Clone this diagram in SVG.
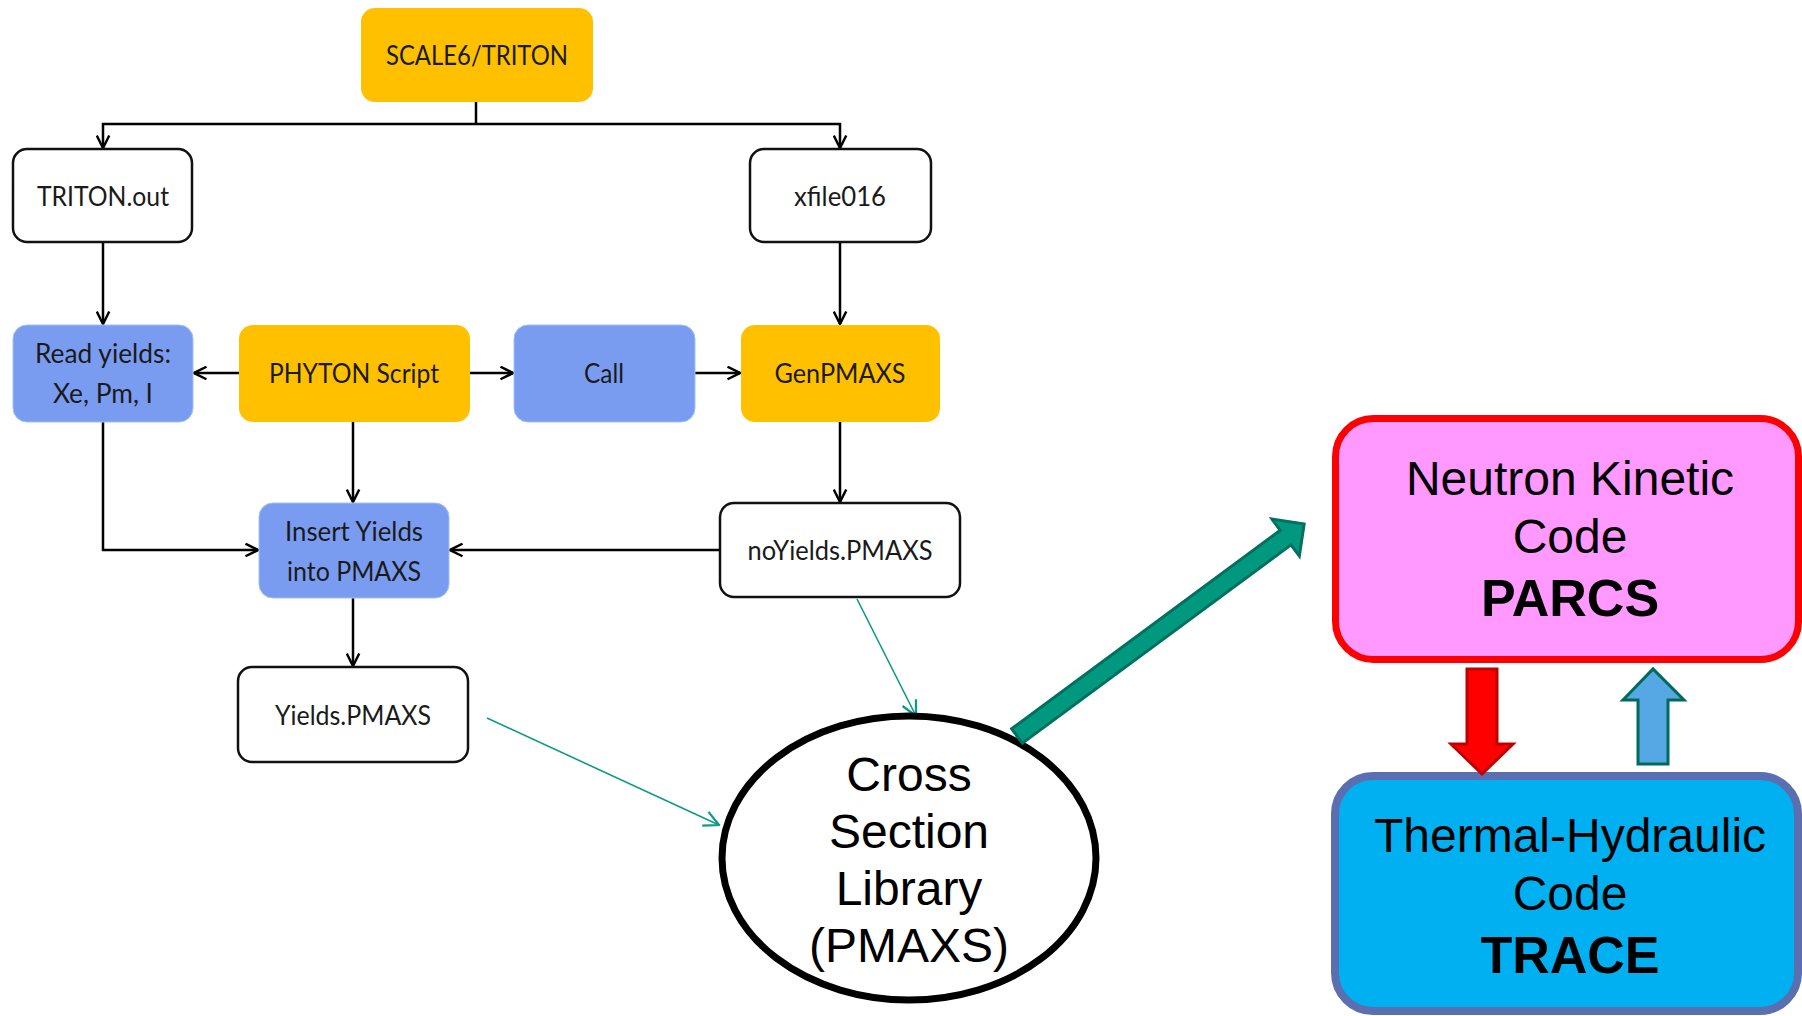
<svg xmlns="http://www.w3.org/2000/svg" width="1802" height="1016" viewBox="0 0 1802 1016">
<style>
.box{stroke:#111;stroke-width:2.5;fill:#fff}
.org{fill:#FFC000}
.blu{fill:#7A9CF0;stroke:#9CC2F2;stroke-width:1}
.t{font-family:Lato,"Liberation Sans",sans-serif;font-size:27px;fill:#1a1a1a;text-anchor:middle}
.c{fill:none;stroke:#000;stroke-width:2.5}
.tl{fill:none;stroke:#0E9A86;stroke-width:1.6}
.big{font-family:"Liberation Sans",Arial,sans-serif;font-size:48px;fill:#000;text-anchor:middle}
.bold{font-weight:bold;font-size:52px}
</style>
<defs>
<marker id="a" viewBox="0 0 12 12" refX="11" refY="6" markerWidth="15" markerHeight="15" markerUnits="userSpaceOnUse" orient="auto">
<path d="M1,1 L11,6 L1,11" fill="none" stroke="#000" stroke-width="2"/>
</marker>
<marker id="at" viewBox="0 0 12 12" refX="11" refY="6" markerWidth="18" markerHeight="18" markerUnits="userSpaceOnUse" orient="auto">
<path d="M1,1 L11,6 L1,11" fill="none" stroke="#0E9A86" stroke-width="1.5"/>
</marker>
</defs>
<rect width="1802" height="1016" fill="#fff"/>

<g id="connectors">
<path class="c" d="M476,102 V124"/>
<path class="c" d="M476,124 H103 V148" marker-end="url(#a)"/>
<path class="c" d="M476,124 H840 V148" marker-end="url(#a)"/>
<path class="c" d="M103,243 V324" marker-end="url(#a)"/>
<path class="c" d="M840,243 V324" marker-end="url(#a)"/>
<path class="c" d="M239,373 H194" marker-end="url(#a)"/>
<path class="c" d="M470,373 H513" marker-end="url(#a)"/>
<path class="c" d="M695,373 H740" marker-end="url(#a)"/>
<path class="c" d="M353,422 V502" marker-end="url(#a)"/>
<path class="c" d="M103,422 V550 H258" marker-end="url(#a)"/>
<path class="c" d="M840,422 V502" marker-end="url(#a)"/>
<path class="c" d="M720,550 H450" marker-end="url(#a)"/>
<path class="c" d="M353,598 V666" marker-end="url(#a)"/>
<path class="tl" d="M487,718 L719,825" marker-end="url(#at)"/>
<path class="tl" d="M857,599 L916,716" marker-end="url(#at)"/>
</g>

<g id="scale6">
<rect class="org" x="361" y="8" width="232" height="94" rx="14"/>
<text class="t" x="477" y="65" textLength="182" lengthAdjust="spacingAndGlyphs">SCALE6/TRITON</text>
</g>
<g id="tritonout">
<rect class="box" x="13" y="149" width="179" height="93" rx="14"/>
<text class="t" x="103" y="206" textLength="132" lengthAdjust="spacingAndGlyphs">TRITON.out</text>
</g>
<g id="xfile016">
<rect class="box" x="750" y="149" width="181" height="93" rx="14"/>
<text class="t" x="840" y="206" textLength="92" lengthAdjust="spacingAndGlyphs">xfile016</text>
</g>
<g id="readyields">
<rect class="blu" x="13" y="325" width="180" height="97" rx="14"/>
<text class="t" x="103" y="363" textLength="136" lengthAdjust="spacingAndGlyphs">Read yields:</text>
<text class="t" x="103" y="403" textLength="100" lengthAdjust="spacingAndGlyphs">Xe, Pm, I</text>
</g>
<g id="phyton">
<rect class="org" x="239" y="325" width="231" height="97" rx="14"/>
<text class="t" x="354" y="383" textLength="170" lengthAdjust="spacingAndGlyphs">PHYTON Script</text>
</g>
<g id="call">
<rect class="blu" x="514" y="325" width="181" height="97" rx="14"/>
<text class="t" x="604" y="383" textLength="40" lengthAdjust="spacingAndGlyphs">Call</text>
</g>
<g id="genpmaxs">
<rect class="org" x="741" y="325" width="199" height="97" rx="14"/>
<text class="t" x="840" y="383" textLength="131" lengthAdjust="spacingAndGlyphs">GenPMAXS</text>
</g>
<g id="insert">
<rect class="blu" x="259" y="503" width="190" height="95" rx="14"/>
<text class="t" x="354" y="541" textLength="138" lengthAdjust="spacingAndGlyphs">Insert Yields</text>
<text class="t" x="354" y="581" textLength="134" lengthAdjust="spacingAndGlyphs">into PMAXS</text>
</g>
<g id="noyields">
<rect class="box" x="720" y="503" width="240" height="94" rx="14"/>
<text class="t" x="840" y="560" textLength="185" lengthAdjust="spacingAndGlyphs">noYields.PMAXS</text>
</g>
<g id="yields">
<rect class="box" x="238" y="667" width="230" height="95" rx="14"/>
<text class="t" x="353" y="725" textLength="156" lengthAdjust="spacingAndGlyphs">Yields.PMAXS</text>
</g>
<g id="library">
<ellipse cx="909" cy="858" rx="187" ry="142" fill="#fff" stroke="#000" stroke-width="7"/>
<text class="big" x="909" y="791">Cross</text>
<text class="big" x="909" y="848">Section</text>
<text class="big" x="909" y="905">Library</text>
<text class="big" x="909" y="962">(PMAXS)</text>
</g>
<g id="bigarrow">
<polygon transform="translate(1017,736) rotate(-36.45)" points="0,-9 334,-9 334,-23 357,0 334,23 334,9 0,9" fill="#00997F" stroke="#00705F" stroke-width="3" stroke-linejoin="miter"/>
</g>
<g id="parcs">
<rect x="1335.5" y="418.5" width="463" height="241" rx="38" fill="#FF99FF" stroke="#FF0000" stroke-width="7"/>
<text class="big" x="1570" y="495">Neutron Kinetic</text>
<text class="big" x="1570" y="553">Code</text>
<text class="big bold" x="1570" y="616">PARCS</text>
</g>
<g id="trace">
<rect x="1335" y="776" width="463" height="235" rx="38" fill="#00B0F0" stroke="#5B6FB0" stroke-width="8"/>
<text class="big" x="1570" y="852">Thermal-Hydraulic</text>
<text class="big" x="1570" y="910">Code</text>
<text class="big bold" x="1570" y="973">TRACE</text>
</g>
<g id="exchange">
<polygon points="1467,669 1497,669 1497,744 1513,744 1482,774 1451,744 1467,744" fill="#FF0000" stroke="#C00000" stroke-width="3"/>
<polygon points="1638,764 1668,764 1668,700 1684,700 1653,669 1623,700 1638,700" fill="#55A8E3" stroke="#006B5A" stroke-width="3"/>
</g>
</svg>
